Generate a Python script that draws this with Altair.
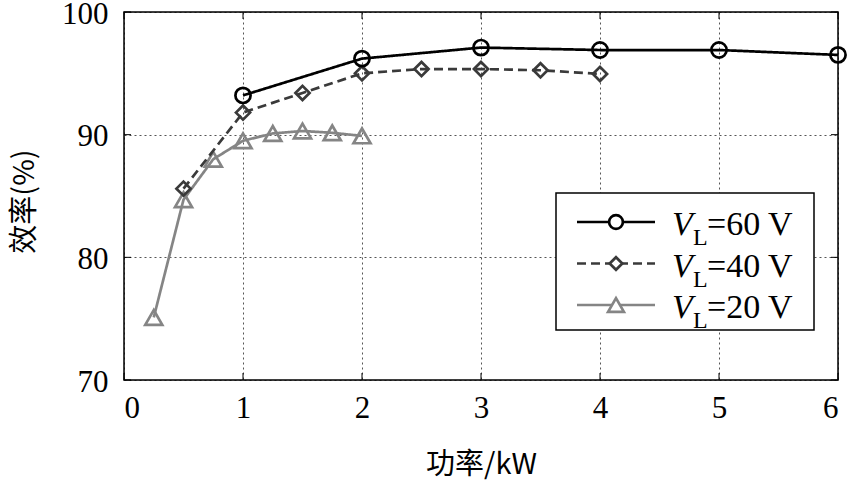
import altair as alt
import pandas as pd

# ---- data ----
x60 = [1, 2, 3, 4, 5, 6]
y60 = [93.2, 96.2, 97.1, 96.9, 96.9, 96.5]
x40 = [0.5, 1, 1.5, 2, 2.5, 3, 3.5, 4]
y40 = [85.6, 91.8, 93.4, 95.0, 95.35, 95.35, 95.25, 94.95]
x20 = [0.25, 0.5, 0.75, 1, 1.25, 1.5, 1.75, 2]
y20 = [75.1, 84.7, 88.0, 89.5, 90.1, 90.3, 90.15, 89.9]
series = ["60", "40", "20"]
x_ticks = [0, 1, 2, 3, 4, 5, 6]
y_ticks = [70, 80, 90, 100]

colors = {"60": "#000000", "40": "#3a3a3a", "20": "#858585"}
shapes = {"60": "circle", "40": "diamond", "20": "triangle-up"}
sizes = {"60": 230, "40": 200, "20": 290}
dashes = {"60": [1, 0], "40": [9, 5], "20": [1, 0]}

W, H = 714, 368
SERIF = "Liberation Serif"
CJK = "Noto Sans CJK SC"

df = pd.concat([
    pd.DataFrame({"s": "60", "x": x60, "y": y60}),
    pd.DataFrame({"s": "40", "x": x40, "y": y40}),
    pd.DataFrame({"s": "20", "x": x20, "y": y20}),
])

xs = alt.Scale(domain=[0, 6], nice=False, zero=False)
ys = alt.Scale(domain=[70, 100], nice=False, zero=False)

layers = []
# grid + axes
base_axes = alt.Chart(pd.DataFrame({"x": [0], "y": [70]})).mark_point(opacity=0).encode(
    x=alt.X("x:Q", scale=xs, title="功率/kW",
            axis=alt.Axis(values=x_ticks, format="d", labelPadding=13,
                          titleY=84, titleBaseline="middle")),
    y=alt.Y("y:Q", scale=ys, title="效率(%)",
            axis=alt.Axis(values=y_ticks, format="d", labelPadding=16, labelOffset=2,
                          titleX=-100, titleY=H / 2 + 5, titleAngle=-90,
                          titleAlign="center", titleBaseline="middle")),
)
layers.append(base_axes)

# inward ticks
xt = pd.DataFrame({"x": x_ticks})
yt = pd.DataFrame({"y": y_ticks})
layers.append(alt.Chart(xt).mark_rule(color="#000", strokeWidth=1).encode(
    x=alt.X("x:Q", scale=xs), y=alt.value(H), y2=alt.value(H - 7)))
layers.append(alt.Chart(xt).mark_rule(color="#000", strokeWidth=1).encode(
    x=alt.X("x:Q", scale=xs), y=alt.value(0), y2=alt.value(7)))
layers.append(alt.Chart(yt).mark_rule(color="#000", strokeWidth=1).encode(
    y=alt.Y("y:Q", scale=ys), x=alt.value(0), x2=alt.value(7)))
layers.append(alt.Chart(yt).mark_rule(color="#000", strokeWidth=1).encode(
    y=alt.Y("y:Q", scale=ys), x=alt.value(W), x2=alt.value(W - 7)))

# series lines/points (draw 20 first, 60 last)
for s in ["20", "40", "60"]:
    d = df[df.s == s]
    layers.append(alt.Chart(d).mark_line(color=colors[s], strokeWidth=2.7,
                                          strokeDash=dashes[s]).encode(
        x=alt.X("x:Q", scale=xs), y=alt.Y("y:Q", scale=ys)))
    layers.append(alt.Chart(d).mark_point(shape=shapes[s], color=colors[s], filled=False,
                                           strokeWidth=2.7, size=sizes[s],
                                           opacity=1).encode(
        x=alt.X("x:Q", scale=xs), y=alt.Y("y:Q", scale=ys)))

# legend
one = pd.DataFrame({"a": [0]})
layers.append(alt.Chart(one).mark_rect(fill="white", stroke="#000", strokeWidth=1.5).encode(
    x=alt.value(432), x2=alt.value(690), y=alt.value(181), y2=alt.value(318)))
for i, s in enumerate(series):
    cy = 210 + i * 41.5
    layers.append(alt.Chart(one).mark_rule(color=colors[s], strokeWidth=2.7,
                                            strokeDash=dashes[s]).encode(
        x=alt.value(453), x2=alt.value(531), y=alt.value(cy)))
    layers.append(alt.Chart(one).mark_point(shape=shapes[s], stroke=colors[s], fill="white",
                                             filled=True, strokeWidth=2.7,
                                             size=sizes[s] - 40,
                                             opacity=1, strokeOpacity=1, fillOpacity=1).encode(
        x=alt.value(492), y=alt.value(cy)))
    layers.append(alt.Chart(one).mark_text(text="V", font=SERIF, fontSize=34, fontStyle="italic",
                                            align="left", baseline="alphabetic", color="#000").encode(
        x=alt.value(548), y=alt.value(cy + 13)))
    layers.append(alt.Chart(one).mark_text(text="L", font=SERIF, fontSize=24,
                                            align="left", baseline="alphabetic", color="#000").encode(
        x=alt.value(569), y=alt.value(cy + 23)))
    layers.append(alt.Chart(one).mark_text(text=f"={s} V", font=SERIF, fontSize=34,
                                            align="left", baseline="alphabetic", color="#000").encode(
        x=alt.value(583), y=alt.value(cy + 13)))

# frame
layers.append(alt.Chart(one).mark_rect(fill=None, stroke="#000", strokeWidth=1.5).encode(
    x=alt.value(0), x2=alt.value(W), y=alt.value(0), y2=alt.value(H)))

chart = alt.layer(*layers).properties(
    width=W, height=H,
    autosize=alt.AutoSizeParams(type="none"),
    padding={"left": 124, "top": 12, "right": 10, "bottom": 100},
).configure_view(stroke=None).configure(background="white").configure_axis(
    labelFont=SERIF, labelFontSize=31, labelColor="#000",
    titleFont=CJK, titleFontSize=29, titleFontWeight="normal", titleColor="#000",
    grid=True, gridDash=[2, 3], gridColor="#555555", gridWidth=1, gridOpacity=1,
    tickSize=0, domain=False)

chart.save("out.html", embed_options={"renderer": "svg", "actions": False})
